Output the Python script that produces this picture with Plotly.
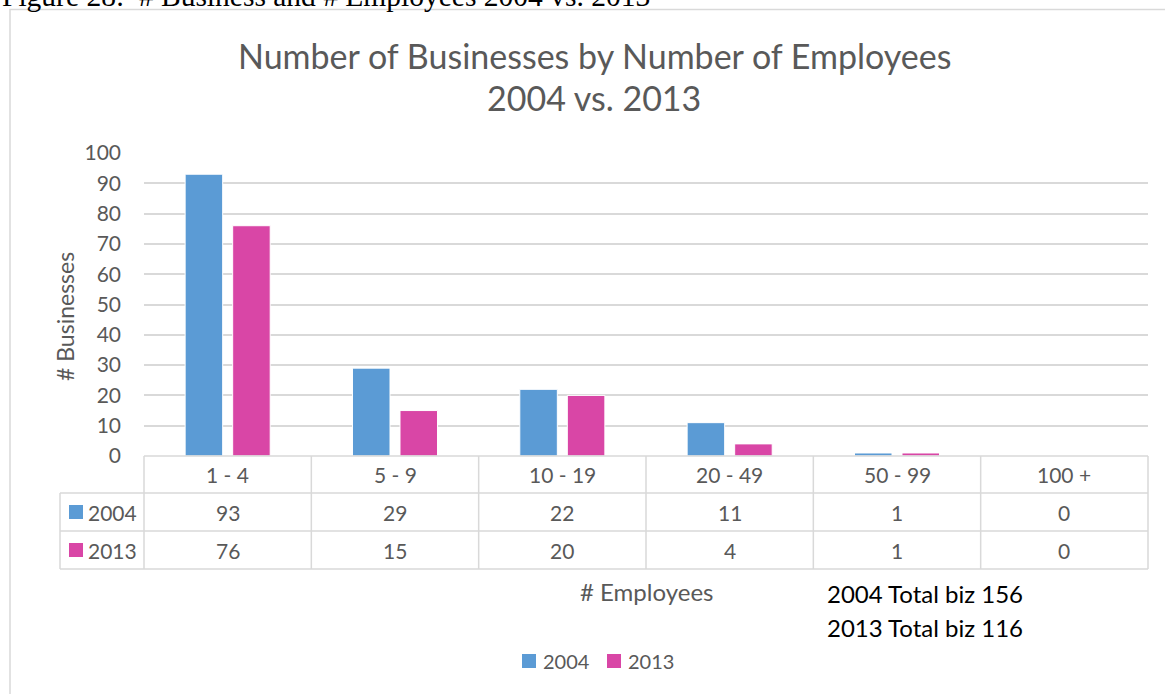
import plotly.graph_objects as go

# ---------------- data ----------------
categories = ["1 - 4", "5 - 9", "10 - 19", "20 - 49", "50 - 99", "100 +"]
series_names = ["2004", "2013"]
values_2004 = [93, 29, 22, 11, 1, 0]
values_2013 = [76, 15, 20, 4, 1, 0]
y_tick_values = [0, 10, 20, 30, 40, 50, 60, 70, 80, 90, 100]
series_colors = ["#5B9BD5", "#D946A6"]

title_line1 = "Number of Businesses by Number of Employees"
title_line2 = "2004 vs. 2013"
caption = "Figure 28:  # Business and # Employees 2004 vs. 2013"
x_title = "# Employees"
y_title = "# Businesses"

# ---------------- layout geometry (pixels) ----------------
W, H = 1165, 694
PL, PR = 144, 1148      # plot area left / right
PT, PB = 153, 456       # plot area top / bottom
PW, PH = PR - PL, PB - PT

def px(xp):
    return (xp - PL) / PW

def py(yp):
    return (PB - yp) / PH

TEXT = "#595959"
GRID = "#d9d9d9"
FONT = "Lato"

series_values = [values_2004, values_2013]
fig = go.Figure()
for name, vals, col in zip(series_names, series_values, series_colors):
    fig.add_trace(go.Bar(
        name=name, x=categories, y=vals,
        marker=dict(color=col, line=dict(color="white", width=1)),
    ))

N = len(categories)
shapes = []
annotations = []

# data table under the axis
row_edges = [PB, 493, 531, 569]
leg_col_left = 60
line_style = dict(color=GRID, width=1.5)
shapes.append(dict(type="line", xref="paper", yref="paper", x0=0, x1=1,
                   y0=py(row_edges[0]), y1=py(row_edges[0]), line=line_style))
for ye in row_edges[1:]:
    shapes.append(dict(type="line", xref="paper", yref="paper", x0=px(leg_col_left), x1=1,
                       y0=py(ye), y1=py(ye), line=line_style))
for k in range(N + 1):
    shapes.append(dict(type="line", xref="paper", yref="paper", x0=k / N, x1=k / N,
                       y0=py(row_edges[0]), y1=py(row_edges[-1]), line=line_style))
shapes.append(dict(type="line", xref="paper", yref="paper", x0=px(leg_col_left), x1=px(leg_col_left),
                   y0=py(row_edges[1]), y1=py(row_edges[-1]), line=line_style))

cell_font = dict(family=FONT, size=21, color=TEXT)
hdr_y = (row_edges[0] + row_edges[1]) / 2
for i, c in enumerate(categories):
    annotations.append(dict(xref="paper", yref="paper", x=(i + 0.5) / N, y=py(hdr_y),
                            text=c, showarrow=False, font=cell_font,
                            xanchor="center", yanchor="middle"))
for r, (name, vals, col) in enumerate(zip(series_names, series_values, series_colors)):
    yc = (row_edges[r + 1] + row_edges[r + 2]) / 2
    for i, v in enumerate(vals):
        annotations.append(dict(xref="paper", yref="paper", x=(i + 0.5) / N, y=py(yc),
                                text=str(v), showarrow=False, font=cell_font,
                                xanchor="center", yanchor="middle"))
    shapes.append(dict(type="rect", xref="paper", yref="paper",
                       x0=px(69), x1=px(83), y0=py(yc - 7), y1=py(yc + 7),
                       fillcolor=col, line=dict(width=0)))
    annotations.append(dict(xref="paper", yref="paper", x=px(86), y=py(yc),
                            text=name, showarrow=False, font=cell_font,
                            xanchor="left", yanchor="middle"))

# bottom legend (drawn by hand to match the original spacing)
leg_y = 661
for r, (name, col) in enumerate(zip(series_names, series_colors)):
    x0 = 522 + 85 * r
    shapes.append(dict(type="rect", xref="paper", yref="paper",
                       x0=px(x0), x1=px(x0 + 14), y0=py(leg_y - 7), y1=py(leg_y + 7),
                       fillcolor=col, line=dict(width=0)))
    annotations.append(dict(xref="paper", yref="paper", x=px(x0 + 19), y=py(leg_y),
                            text=name, showarrow=False,
                            font=dict(family=FONT, size=20, color=TEXT),
                            xanchor="left", yanchor="middle"))

# titles
for line, yc in ((title_line1, 55), (title_line2, 98)):
    annotations.append(dict(xref="paper", yref="paper", x=px(594), y=py(yc), text=line,
                            showarrow=False, font=dict(family=FONT, size=34, color=TEXT),
                            xanchor="center", yanchor="middle"))
annotations.append(dict(xref="paper", yref="paper", x=px(646), y=py(591), text=x_title,
                        showarrow=False, font=dict(family=FONT, size=24, color=TEXT),
                        xanchor="center", yanchor="middle"))
annotations.append(dict(xref="paper", yref="paper", x=px(65), y=py(317), text=y_title,
                        textangle=-90, showarrow=False, font=dict(family=FONT, size=23, color=TEXT),
                        xanchor="center", yanchor="middle"))
for j, (name, vals) in enumerate(zip(series_names, series_values)):
    annotations.append(dict(xref="paper", yref="paper", x=px(825), y=py(593 + 34 * j),
                            text=f"{name} Total biz {sum(vals)}", showarrow=False,
                            font=dict(family=FONT, size=24, color="black"),
                            xanchor="left", yanchor="middle"))
# cut-off caption at the very top
annotations.append(dict(xref="paper", yref="paper", x=px(0), y=py(-4.5), text=caption,
                        showarrow=False, font=dict(family="Liberation Serif", size=29.5, color="black"),
                        xanchor="left", yanchor="middle"))

# chart frame
shapes.append(dict(type="rect", xref="paper", yref="paper", layer="below",
                   x0=px(10), x1=px(1300), y0=py(9.5), y1=py(800),
                   line=dict(color=GRID, width=1.5), fillcolor="rgba(0,0,0,0)"))

fig.update_layout(
    width=W, height=H,
    margin=dict(l=PL, r=W - PR, t=PT, b=H - PB, autoexpand=False),
    paper_bgcolor="white", plot_bgcolor="white",
    barmode="group", bargap=0.432, bargroupgap=0.21,
    font=dict(family=FONT, color=TEXT),
    xaxis=dict(type="category", range=[-0.5, N - 0.5], showticklabels=False,
               showgrid=False, zeroline=False, showline=False, ticks=""),
    yaxis=dict(range=[0, 100], tickvals=y_tick_values, showgrid=True, gridcolor=GRID,
               gridwidth=1.5, zeroline=False, showline=False, ticks="",
               tickfont=dict(family=FONT, size=21, color=TEXT), ticklabelstandoff=22),
    showlegend=False,
    shapes=shapes, annotations=annotations,
)

fig.write_html("out.html", config={"displayModeBar": False},
               post_script="document.body.style.margin='0';")
